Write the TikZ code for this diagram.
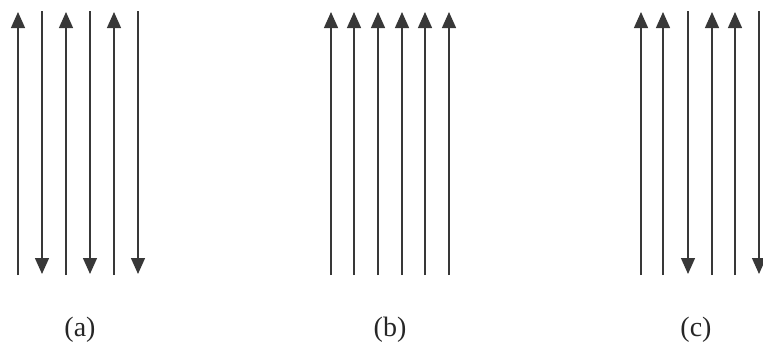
\documentclass[tikz,border=0pt]{standalone}
\usepackage{fontspec}
\setmainfont{Liberation Serif}
\usetikzlibrary{arrows.meta,positioning}

\begin{document}
\begin{tikzpicture}[x=1pt,y=-1pt,
	flux/.style={draw=black!78, line width=1.3pt},
	fluxup/.style={flux, -{Triangle[length=16pt,width=14pt]}},
	fluxdown/.style={flux, -{Triangle[length=16pt,width=14pt]}},
	caption/.style={font=\fontsize{28}{28}\selectfont, text=black!85, inner sep=0pt}]
		
		\useasboundingbox (0,0) rectangle (763,349);
		
		% (a) alternating
		\coordinate (a1t) at (18,12);  \coordinate (a1b) at (18,275);
		\coordinate (a2t) at (42,11);  \coordinate (a2b) at (42,274);
		\coordinate (a3t) at (66,12);  \coordinate (a3b) at (66,275);
		\coordinate (a4t) at (90,11);  \coordinate (a4b) at (90,274);
		\coordinate (a5t) at (114,12); \coordinate (a5b) at (114,275);
		\coordinate (a6t) at (138,11); \coordinate (a6b) at (138,274);
		
		\draw[fluxup] (a1b) -- (a1t);
		\draw[fluxdown] (a2t) -- (a2b);
		\draw[fluxup] (a3b) -- (a3t);
		\draw[fluxdown] (a4t) -- (a4b);
		\draw[fluxup] (a5b) -- (a5t);
		\draw[fluxdown] (a6t) -- (a6b);
		
		% (b) all up
		\coordinate (b1t) at (331,12); \coordinate (b1b) at (331,275);
		\coordinate (b2t) at (354,12); \coordinate (b2b) at (354,275);
		\coordinate (b3t) at (378,12); \coordinate (b3b) at (378,275);
		\coordinate (b4t) at (402,12); \coordinate (b4b) at (402,275);
		\coordinate (b5t) at (425,12); \coordinate (b5b) at (425,275);
		\coordinate (b6t) at (449,12); \coordinate (b6b) at (449,275);
		
		\draw[fluxup] (b1b) -- (b1t);
		\draw[fluxup] (b2b) -- (b2t);
		\draw[fluxup] (b3b) -- (b3t);
		\draw[fluxup] (b4b) -- (b4t);
		\draw[fluxup] (b5b) -- (b5t);
		\draw[fluxup] (b6b) -- (b6t);
		
		% (c) two up, one down
		\coordinate (c1t) at (641,12); \coordinate (c1b) at (641,275);
		\coordinate (c2t) at (663,12); \coordinate (c2b) at (663,275);
		\coordinate (c3t) at (688,11); \coordinate (c3b) at (688,274);
		\coordinate (c4t) at (712,12); \coordinate (c4b) at (712,275);
		\coordinate (c5t) at (735,12); \coordinate (c5b) at (735,275);
		\coordinate (c6t) at (759,11); \coordinate (c6b) at (759,274);
		
		\draw[fluxup] (c1b) -- (c1t);
		\draw[fluxup] (c2b) -- (c2t);
		\draw[fluxdown] (c3t) -- (c3b);
		\draw[fluxup] (c4b) -- (c4t);
		\draw[fluxup] (c5b) -- (c5t);
		\draw[fluxdown] (c6t) -- (c6b);
		
		\node[caption] (la) at (80,330) {(a)};
		\node[caption] (lb) at (390,330) {(b)};
		\node[caption] (lc) at (696,330) {(c)};
		
	\end{tikzpicture}
\end{document}
